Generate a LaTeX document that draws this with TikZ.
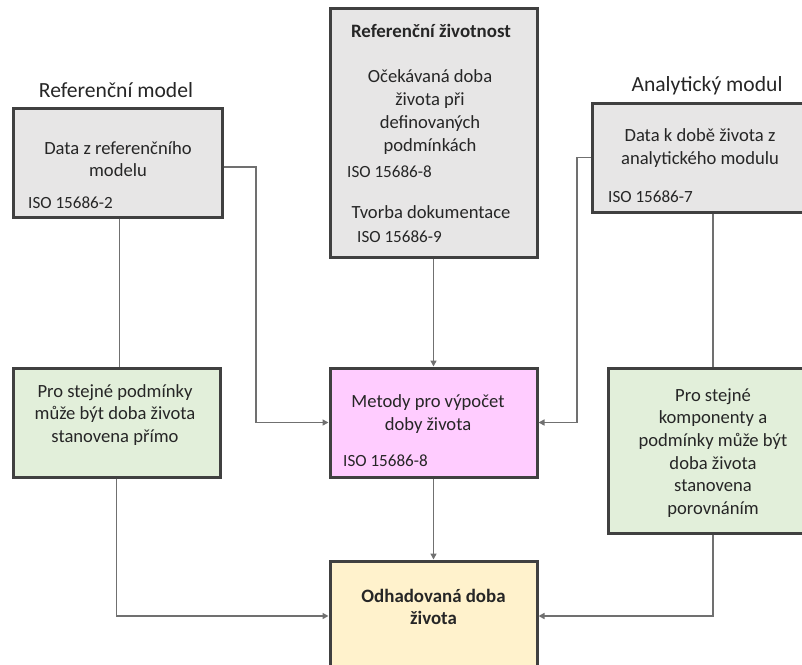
\documentclass[tikz,border=0pt]{standalone}
\usepackage{fontspec}
\setmainfont{Carlito}
\usetikzlibrary{arrows.meta}
\definecolor{bordc}{HTML}{404040}
\definecolor{greyf}{HTML}{E7E6E6}
\definecolor{pinkf}{HTML}{FFCCFF}
\definecolor{greenf}{HTML}{E2EFDA}
\definecolor{yellf}{HTML}{FFF2CC}
\definecolor{linec}{HTML}{707070}
\tikzset{
  box/.style={draw=bordc, line width=3pt, inner sep=0pt, rectangle},
  body/.style={font=\fontsize{18.6}{22.7}\selectfont, align=center, inner sep=0pt, text=black!85},
  iso/.style={font=\fontsize{17.1}{20}\selectfont, anchor=west, inner sep=0pt, text=black!85},
  ttl/.style={font=\fontsize{21.6}{24}\selectfont, inner sep=0pt, text=black!85},
  bld/.style={font=\fontsize{18.9}{22.7}\selectfont\bfseries, align=center, inner sep=0pt, text=black!85},
  conn/.style={draw=linec, line width=1.5pt, -{Triangle[length=6pt,width=6pt]}},
  plain/.style={draw=linec, line width=1.5pt}
}
\begin{document}
\begin{tikzpicture}[x=1pt,y=-1pt]
\useasboundingbox (0,0) rectangle (802,664);
% boxes
\node[box, fill=greyf, minimum width=209pt, minimum height=109pt] (Lbox) at (117.5,162.5) {};
\node[box, fill=greyf, minimum width=207pt, minimum height=249pt] (Tbox) at (433.5,132.5) {};
\node[box, fill=greyf, minimum width=216pt, minimum height=109pt] (Rbox) at (700,157.5) {};
\node[box, fill=greenf, minimum width=207pt, minimum height=109pt] (Lgreen) at (116.5,422.5) {};
\node[box, fill=pinkf, minimum width=207pt, minimum height=109pt] (pink) at (433.5,422.5) {};
\node[box, fill=greenf, minimum width=210pt, minimum height=165pt] (Rgreen) at (713,450.5) {};
\node[box, fill=yellf, minimum width=207pt, minimum height=110pt] (bot) at (433.5,616) {};
% titles
\node[ttl] (tL) at (116,90) {Referenční model};
\node[ttl] (tR) at (707,86) {Analytický modul};
% texts
\node[body] (xL) at (118,159) {Data z referenčního\\modelu};
\node[iso] (iL) at (28,203) {ISO 15686-2};
\node[bld] (hT) at (431,31) {Referenční životnost};
\node[body] (xT) at (430,112) {Očekávaná doba\\života při\\definovaných\\podmínkách};
\node[iso] (iT1) at (347,172) {ISO 15686-8};
\node[body] (xT2) at (431,212) {Tvorba dokumentace};
\node[iso] (iT2) at (357,237) {ISO 15686-9};
\node[body] (xR) at (700,148) {Data k době života z\\analytického modulu};
\node[iso] (iR) at (608,197) {ISO 15686-7};
\node[body] (xLg) at (115,415) {Pro stejné podmínky\\může být doba života\\stanovena přímo};
\node[body] (xP) at (428,414) {Metody pro výpočet\\doby života};
\node[iso] (iP) at (343,461) {ISO 15686-8};
\node[body] (xRg) at (713,453) {Pro stejné\\komponenty a\\podmínky může být\\doba života\\stanovena\\porovnáním};
\node[bld] (xB) at (433.5,607) {Odhadovaná doba\\života};
% junction coordinates
\coordinate (jL) at (256,300);
\coordinate (jR) at (577,300);
% connectors
\draw[conn] ([yshift=-4.5pt]Lbox.east) -| (jL) |- (pink.west);
\draw[conn] (Rbox.west) -| (jR) |- (pink.east);
\draw[conn] (Tbox.south) -- (pink.north);
\draw[conn] (pink.south) -- (bot.north);
\draw[plain] ([xshift=2pt]Lbox.south) -- ([xshift=3pt]Lgreen.north);
\draw[plain] ([xshift=13pt]Rbox.south) -- (Rgreen.north);
\draw[conn] (Lgreen.south) |- (bot.west);
\draw[conn] (Rgreen.south) |- (bot.east);
\end{tikzpicture}
\end{document}
